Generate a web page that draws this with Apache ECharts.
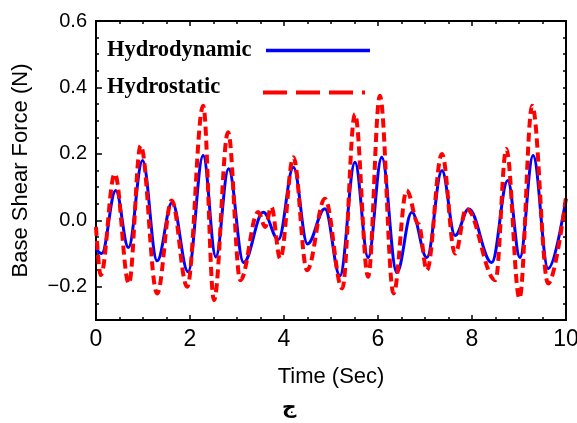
<!DOCTYPE html>
<html>
<head>
<meta charset="utf-8">
<script src="https://cdn.jsdelivr.net/npm/echarts@6/dist/echarts.min.js"></script>
<style>
  html, body { margin: 0; padding: 0; background: #fff; }
  #graph { width: 577px; height: 423px; }
</style>
</head>
<body>
<div id="graph"></div>
<script>
// peaks and troughs (time in s, force in N)
const timeDyn = [0, 0.12, 0.42, 0.69, 0.99, 1.30, 1.62, 1.96, 2.28, 2.55, 2.82, 3.14, 3.56, 3.88, 4.20, 4.50, 4.87,
  5.19, 5.51, 5.79, 6.08, 6.40, 6.72, 7.04, 7.36, 7.64, 7.93, 8.42, 8.76, 9.02, 9.30, 9.62, 10];
const hydrodynamic = [-0.085, -0.1, 0.09, -0.082, 0.18, -0.122, 0.054, -0.155, 0.195, -0.11, 0.155, -0.127, 0.024, -0.058, 0.16, -0.071, 0.035,
  -0.167, 0.175, -0.112, 0.19, -0.157, 0.024, -0.112, 0.15, -0.046, 0.034, -0.127, 0.12, -0.112, 0.195, -0.145, 0.065];

const timeSta = [0, 0.10, 0.40, 0.70, 0.95, 1.30, 1.61, 1.94, 2.28, 2.51, 2.81, 3.07, 3.45, 3.60, 3.73, 3.92, 4.20, 4.49, 4.87,
  5.24, 5.51, 5.79, 6.04, 6.33, 6.61, 6.86, 7.04, 7.36, 7.64, 7.88, 8.50, 8.73, 9.01, 9.28, 9.62, 10];
const hydrostatic = [-0.02, -0.165, 0.14, -0.19, 0.225, -0.22, 0.06, -0.2, 0.345, -0.24, 0.265, -0.18, 0.025, -0.02, 0.04, -0.115, 0.19, -0.15, 0.065,
  -0.205, 0.32, -0.17, 0.375, -0.22, 0.09, -0.011, -0.15, 0.2, -0.1, 0.035, -0.18, 0.215, -0.235, 0.345, -0.19, 0.07];

const yMajor = [-0.2, 0, 0.2, 0.4, 0.6];

function pairs(xs, ys) {
  return xs.map((x, i) => [x, ys[i]]);
}

function box() {
  return {show: true, onZero: false, lineStyle: {color: '#000', width: 2}};
}

function ticks(len, extra) {
  return Object.assign({show: true, inside: true, length: len, lineStyle: {color: '#000', width: 1.5}}, extra || {});
}

const chart = echarts.init(document.getElementById('graph'));

chart.setOption({
  animation: false,
  grid: {left: 96, right: 11, top: 21, bottom: 103, outerBoundsMode: 'none',
    show: true, borderColor: '#000', borderWidth: 2},
  xAxis: [
    {
      type: 'value', min: 0, max: 10, interval: 2, position: 'bottom',
      name: 'Time (Sec)', nameLocation: 'middle', nameGap: 46,
      nameTextStyle: {fontFamily: 'Liberation Sans', fontSize: 22, color: '#000'},
      axisLine: box(),
      axisTick: ticks(5),
      minorTick: ticks(3, {splitNumber: 4}),
      axisLabel: {fontFamily: 'Liberation Sans', fontSize: 23, color: '#000', margin: 8},
      splitLine: {show: false}
    },
    {
      type: 'value', min: 0, max: 10, interval: 2, position: 'top',
      axisLine: box(),
      axisTick: ticks(5),
      minorTick: ticks(3, {splitNumber: 4}),
      axisLabel: {show: false},
      splitLine: {show: false}
    }
  ],
  yAxis: [
    {
      type: 'value', min: -0.3, max: 0.6, interval: 0.05, position: 'left',
      name: 'Base Shear Force (N)', nameLocation: 'middle', nameGap: 64,
      nameTextStyle: {fontFamily: 'Liberation Sans', fontSize: 22, color: '#000'},
      axisLine: box(),
      axisTick: ticks(3),
      axisLabel: {
        fontFamily: 'Liberation Sans', fontSize: 20, color: '#000', margin: 9,
        formatter: function (v) {
          if (Math.abs(Math.round(v * 100)) % 20 !== 0) return '';
          return v < 0 ? '\u2212' + Math.abs(v).toFixed(1) : v.toFixed(1);
        }
      },
      splitLine: {show: false}
    },
    {
      type: 'value', min: -0.3, max: 0.6, interval: 0.05, position: 'left',
      axisLine: {show: false, onZero: false},
      axisTick: ticks(6, {customValues: yMajor}),
      axisLabel: {show: false},
      splitLine: {show: false}
    },
    {
      type: 'value', min: -0.3, max: 0.6, interval: 0.05, position: 'right',
      axisLine: box(),
      axisTick: ticks(3),
      axisLabel: {show: false},
      splitLine: {show: false}
    }
  ],
  series: [
    {
      name: 'Hydrodynamic', type: 'line', xAxisIndex: 0, yAxisIndex: 0,
      data: pairs(timeDyn, hydrodynamic),
      smooth: 0.38, smoothMonotone: 'x', showSymbol: false,
      lineStyle: {color: '#0000ff', width: 3}
    },
    {
      name: 'Hydrostatic', type: 'line', xAxisIndex: 0, yAxisIndex: 0,
      data: pairs(timeSta, hydrostatic),
      smooth: 0.38, smoothMonotone: 'x', showSymbol: false,
      lineStyle: {color: '#ff0000', width: 4, type: [9, 5]}
    }
  ],
  graphic: [
    // frame top and right edge
    {type: 'polyline', shape: {points: [[96, 21], [566, 21], [566, 320]]},
      style: {stroke: '#000', lineWidth: 2, fill: null}, z: 10},
    {type: 'text', left: 107, top: 39,
      style: {text: 'Hydrodynamic', font: 'bold 22.5px "Liberation Serif"', fill: '#000'}},
    {type: 'line', shape: {x1: 266, y1: 50.5, x2: 370, y2: 50.5},
      style: {stroke: '#0000ff', lineWidth: 3.5}},
    {type: 'text', left: 107, top: 76,
      style: {text: 'Hydrostatic', font: 'bold 22.5px "Liberation Serif"', fill: '#000'}},
    {type: 'line', shape: {x1: 263, y1: 92.5, x2: 365, y2: 92.5},
      style: {stroke: '#ff0000', lineWidth: 4, lineDash: [24, 9]}},
    {type: 'text', left: 282, top: 398,
      style: {text: 'ج', font: 'bold 20px "DejaVu Sans"', fill: '#000'}}
  ]
});
</script>
</body>
</html>
